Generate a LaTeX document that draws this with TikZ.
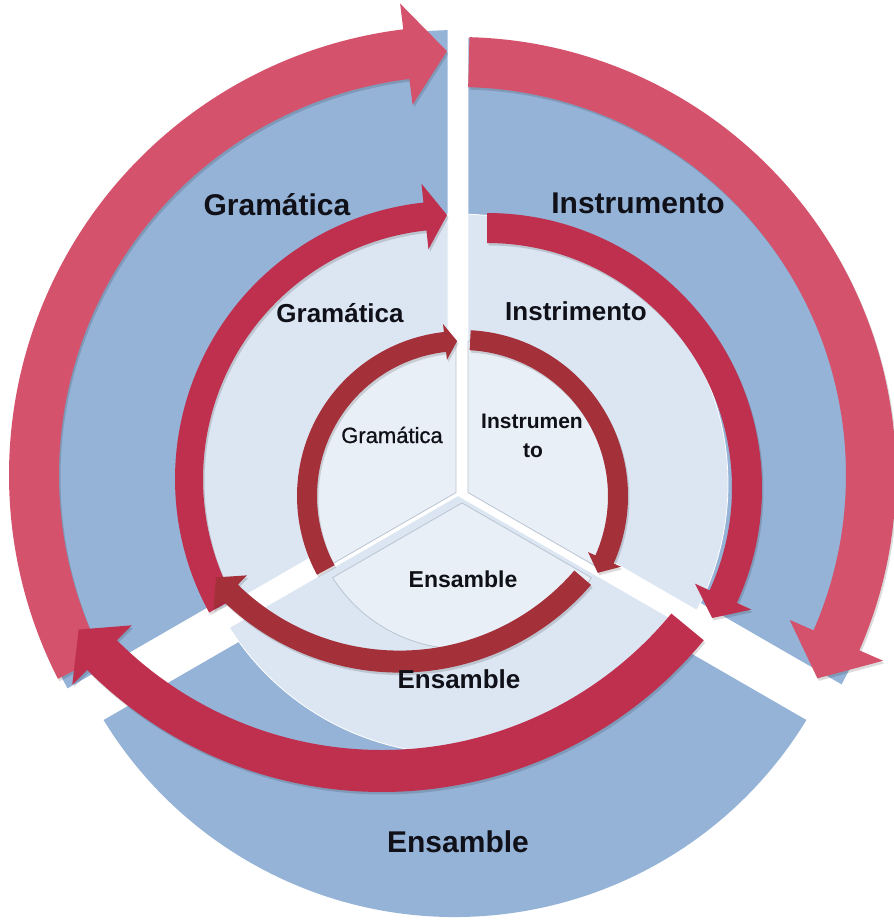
\documentclass[tikz,border=0pt]{standalone}
\usepackage{fontspec}
\setmainfont{Liberation Sans}
\usetikzlibrary{calc}
\definecolor{outerblue}{HTML}{95B3D7}
\definecolor{midfill}{HTML}{DCE6F2}
\definecolor{innerfill}{HTML}{E9EFF7}
\definecolor{pinkarrow}{HTML}{D4526B}
\definecolor{crimsonarrow}{HTML}{BF2F4E}
\definecolor{darkarrow}{HTML}{A4303A}
\definecolor{labeltext}{HTML}{101018}
\definecolor{seamgray}{HTML}{B9C4D2}

% sector of a ring: #1 centre, #2 radius, #3 start angle, #4 end angle, #5 half gap, #6 style
\newcommand\ringsector[6]{%
  \begin{scope}[shift={#1}]
    \path[#6] ({(#3+#4)/2}:{#5/sin(60)}) -- ({#3+asin(#5/#2)}:#2)
      arc[start angle={#3+asin(#5/#2)}, end angle={#4-asin(#5/#2)}, radius=#2] -- cycle;
  \end{scope}}

% curved block arrow: #1 centre, #2 radius, #3 half width, #4 start angle,
% #5 angle of head base, #6 angle of tip, #7 half width of head, #8 style
\newcommand\cyclearrowpath[8]{%
  \path[#8] (#4:{#2+#3}) arc[start angle=#4, end angle=#5, radius={#2+#3}]
      -- (#5:{#2+#7}) -- (#6:#2) -- (#5:{#2-#7}) -- (#5:{#2-#3})
      arc[start angle=#5, end angle=#4, radius={#2-#3}] -- cycle;}
\newcommand\cyclearrow[8]{%
  \begin{scope}[shift={#1}]
    \begin{scope}[shift={(1.5,2.5)}]
      \cyclearrowpath{#1}{#2}{#3}{#4}{#5}{#6}{#7}{arrowshadow}
    \end{scope}
    \cyclearrowpath{#1}{#2}{#3}{#4}{#5}{#6}{#7}{#8}
  \end{scope}}

\begin{document}
\begin{tikzpicture}[x=1pt,y=-1pt,
  outersector/.style={fill=outerblue},
  midsector/.style={fill=midfill, draw=white, line width=0.8pt},
  innersector/.style={fill=innerfill, draw=seamgray, line width=0.8pt},
  arrowshadow/.style={fill=black, opacity=0.14},
  outerarrow/.style={fill=pinkarrow},
  midarrow/.style={fill=crimsonarrow},
  innerarrow/.style={fill=darkarrow},
  outerlabel/.style={font=\fontsize{30}{36}\selectfont\bfseries, text=labeltext, inner sep=0pt},
  midlabel/.style={font=\fontsize{26}{31}\selectfont\bfseries, text=labeltext, inner sep=0pt},
  innerlabel/.style={font=\fontsize{23}{28}\selectfont\bfseries, text=labeltext, inner sep=0pt}]

\useasboundingbox (0,0) rectangle (894,924);
\clip (0,0) rectangle (894,924);

% ---------- outer layer ----------
\ringsector{(458,475)}{445}{150}{270}{10.5}{outersector}
\ringsector{(458,475)}{437}{270}{390}{10.5}{outersector}
\ringsector{(455,505)}{412}{30}{150}{10.5}{outersector}

\cyclearrow{(458,475)}{424}{25}{153}{263}{268.5}{51}{outerarrow}
\cyclearrow{(458,475)}{413}{25}{271.5}{383.6}{389.5}{51}{outerarrow}

% ---------- middle layer ----------
\ringsector{(458,484)}{270}{150}{270}{10}{midsector}
\ringsector{(458,484)}{270}{270}{390}{10}{midsector}
\ringsector{(458,484)}{270}{30}{150}{10}{midsector}

\cyclearrow{(453,479)}{264}{14}{151.3}{263.9}{268.7}{33}{midarrow}
\cyclearrow{(487,488)}{260}{15}{270}{384.7}{390}{31}{midarrow}
\cyclearrow{(382,375)}{396}{21}{39.5}{135}{140}{42}{midarrow}

% ---------- inner layer ----------
\ringsector{(462,496)}{155}{150}{270}{6}{innersector}
\ringsector{(462,496)}{155}{270}{390}{6}{innersector}
\ringsector{(462,496)}{153}{30}{150}{6}{innersector}

\cyclearrow{(462,496)}{155}{10}{151.5}{263.7}{268.2}{18}{innerarrow}
\cyclearrow{(462,496)}{156}{10}{273}{384}{389.5}{18}{innerarrow}
\cyclearrow{(399.5,419.6)}{242}{11}{40.8}{134.4}{139.3}{24}{innerarrow}

% ---------- labels ----------
\node[outerlabel, anchor=base] (gramOuter) at (277,215) {Gramática};
\node[outerlabel, anchor=base] (instOuter) at (638,213) {Instrumento};
\node[outerlabel, anchor=base] (ensOuter) at (458,852) {Ensamble};

\node[midlabel, anchor=base] (gramMid) at (340,322) {Gramática};
\node[midlabel, anchor=base] (instMid) at (576,320) {Instrimento};
\node[midlabel, anchor=base] (ensMid) at (459,688) {Ensamble};

\node[font=\fontsize{22}{26}\selectfont\addfontfeature{FakeBold=0.8}, text=labeltext, inner sep=0pt, anchor=base] (gramIn) at (392,443) {Gramática};
\node[font=\fontsize{21}{29}\selectfont\bfseries, text=labeltext, inner sep=0pt, anchor=base] (instIn) at (532,428) {Instrumen};
\node[font=\fontsize{21}{29}\selectfont\bfseries, text=labeltext, inner sep=0pt, anchor=base] (instInB) at (533,457) {to};
\node[innerlabel, anchor=base] (ensIn) at (463,587) {Ensamble};
\end{tikzpicture}
\end{document}
